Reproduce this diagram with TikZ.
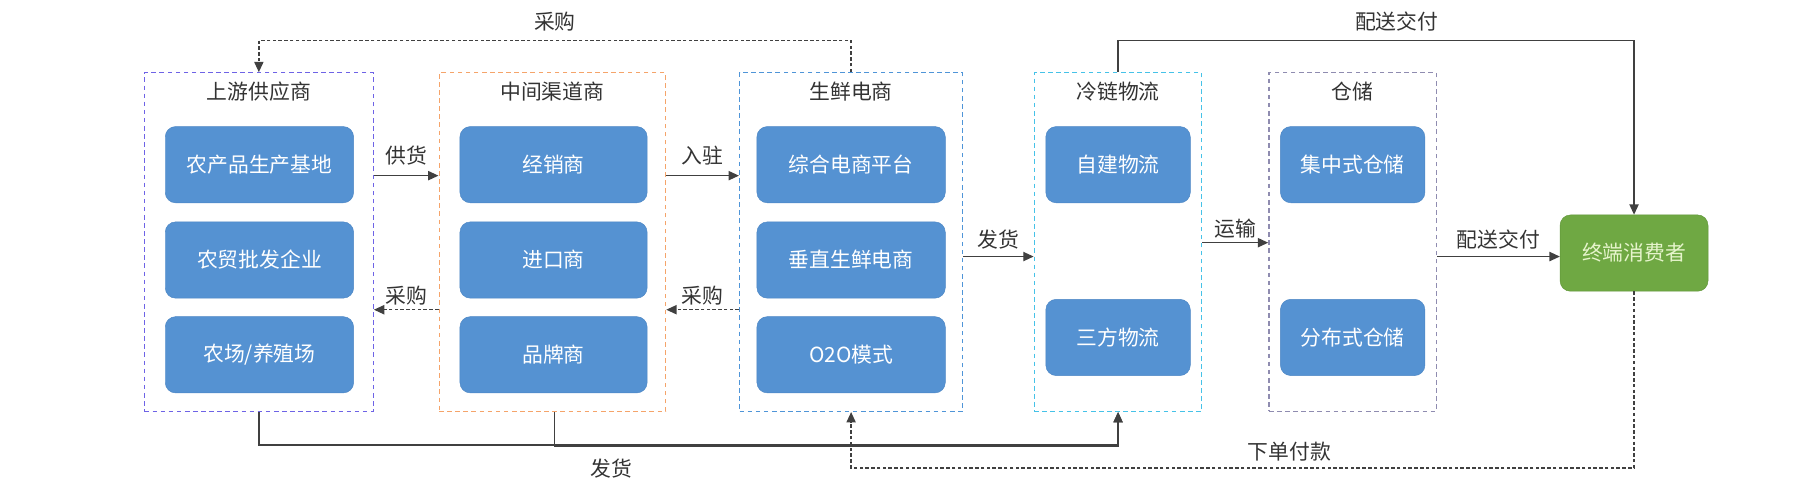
\documentclass[tikz,border=0pt]{standalone}
\usepackage{fontspec}
\setmainfont{Noto Sans CJK SC}
\usetikzlibrary{arrows.meta,positioning}
\definecolor{boxblue}{HTML}{5592D2}
\definecolor{boxedge}{HTML}{4C86C4}
\definecolor{usergreen}{HTML}{6FA843}
\definecolor{useredge}{HTML}{5F9538}
\definecolor{usertext}{HTML}{E6F4CC}
\definecolor{supcol}{HTML}{6E63E6}
\definecolor{midcol}{HTML}{F5A46A}
\definecolor{ecomcol}{HTML}{4F95D8}
\definecolor{coldcol}{HTML}{45C2E8}
\definecolor{storecol}{HTML}{8F8CB0}
\definecolor{wirecol}{HTML}{404040}
\definecolor{txt}{HTML}{333333}

\begin{document}
\begin{tikzpicture}[
    x=1pt, y=-1pt,
    font=\fontsize{18}{20}\selectfont,
    text=txt,
    group/.style={draw=#1, dash pattern=on 4pt off 3pt, line width=1.1pt,
      minimum height=293pt, inner sep=0pt},
    item/.style={draw=boxedge, fill=boxblue, rounded corners=9pt, text=white,
      minimum height=66pt, inner sep=0pt},
    flow/.style={draw=wirecol, line width=1.2pt,
      -{Triangle[length=9pt,width=8pt]}},
    back/.style={flow, dash pattern=on 3pt off 2pt},
    ]
    \useasboundingbox (0,0) rectangle (1568,434.4);

    % groups and their members
    \node[group=supcol, minimum width=198pt] (sup) at (224,209.5) {};
    \node at ([yshift=-17pt]sup.north) {上游供应商};
    \node[item, minimum width=163pt] (sup1) at (224.5,142.5) {农产品生产基地};
    \node[item, minimum width=163pt] (sup2) at (224.5,225) {农贸批发企业};
    \node[item, minimum width=163pt] (sup3) at (224.5,307) {农场/养殖场};

    \node[group=midcol, minimum width=196pt] (mid) at (478,209.5) {};
    \node at ([yshift=-17pt]mid.north) {中间渠道商};
    \node[item, minimum width=162pt] (mid1) at (479,142.5) {经销商};
    \node[item, minimum width=162pt] (mid2) at (479,225) {进口商};
    \node[item, minimum width=162pt] (mid3) at (479,307) {品牌商};

    \node[group=ecomcol, minimum width=193pt] (ecom) at (736.5,209.5) {};
    \node at ([yshift=-17pt]ecom.north) {生鲜电商};
    \node[item, minimum width=163pt] (ecom1) at (736.5,142.5) {综合电商平台};
    \node[item, minimum width=163pt] (ecom2) at (736.5,225) {垂直生鲜电商};
    \node[item, minimum width=163pt] (ecom3) at (736.5,307) {O2O模式};

    \node[group=coldcol, minimum width=145pt] (cold) at (967.5,209.5) {};
    \node at ([yshift=-17pt]cold.north) {冷链物流};
    \node[item, minimum width=125pt] (cold1) at (967.5,142.5) {自建物流};
    \node[item, minimum width=125pt] (cold2) at (967.5,292) {三方物流};

    \node[group=storecol, minimum width=145pt] (store) at (1170.5,209.5) {};
    \node at ([yshift=-17pt]store.north) {仓储};
    \node[item, minimum width=125pt] (store1) at (1170.5,142.5) {集中式仓储};
    \node[item, minimum width=125pt] (store2) at (1170.5,292) {分布式仓储};

    \node[item, draw=useredge, fill=usergreen, text=usertext,
      minimum width=128pt] (user) at (1414,219) {终端消费者};

    % rows of the connectors
    \coordinate (yA) at (0,152);
    \coordinate (yB) at (0,268);
    \coordinate (yC) at (0,222);
    \coordinate (yD) at (0,210);
    \coordinate (yT) at (0,35);
    \coordinate (yS) at (0,385);
    \coordinate (yS2) at (0,386.3);
    \coordinate (yP) at (0,405);
    \coordinate (drop) at (480,0);

    \draw[flow] (sup.east |- yA) -- (mid.west |- yA)
    node[midway, above=5pt] {供货};
    \draw[flow] (mid.east |- yA) -- (ecom.west |- yA)
    node[midway, above=5pt] {入驻};
    \draw[back] (mid.west |- yB) -- (sup.east |- yB)
    node[midway, above] {采购};
    \draw[back] (ecom.west |- yB) -- (mid.east |- yB)
    node[midway, above] {采购};
    \draw[flow] (ecom.east |- yC) -- (cold.west |- yC)
    node[midway, above=2pt] {发货};
    \draw[flow] (cold.east |- yD) -- (store.west |- yD)
    node[midway, above] {运输};
    \draw[flow] (store.east |- yC) -- (user.west |- yC)
    node[midway, above=2pt] {配送交付};

    \draw[flow] (cold.north) -- (cold.north |- yT) -- (user.north |- yT)
    node[pos=0.54, above=4pt] {配送交付} -- (user.north);
    \draw[back] (ecom.north) -- (ecom.north |- yT) -- (sup.north |- yT)
    node[midway, above=4pt] {采购} -- (sup.north);

    \draw[flow] (sup.south) -- (sup.south |- yS) -- (cold.south |- yS)
    -- (cold.south);
    \draw[flow] (drop |- mid.south) -- (drop |- yS2) -- (cold.south |- yS2)
    node[pos=0.1, below=7pt] {发货} -- (cold.south);
    \draw[back] (user.south) -- (user.south |- yP) -- (ecom.south |- yP)
    node[pos=0.44, above=2pt] {下单付款} -- (ecom.south);
  \end{tikzpicture}
\end{document}
